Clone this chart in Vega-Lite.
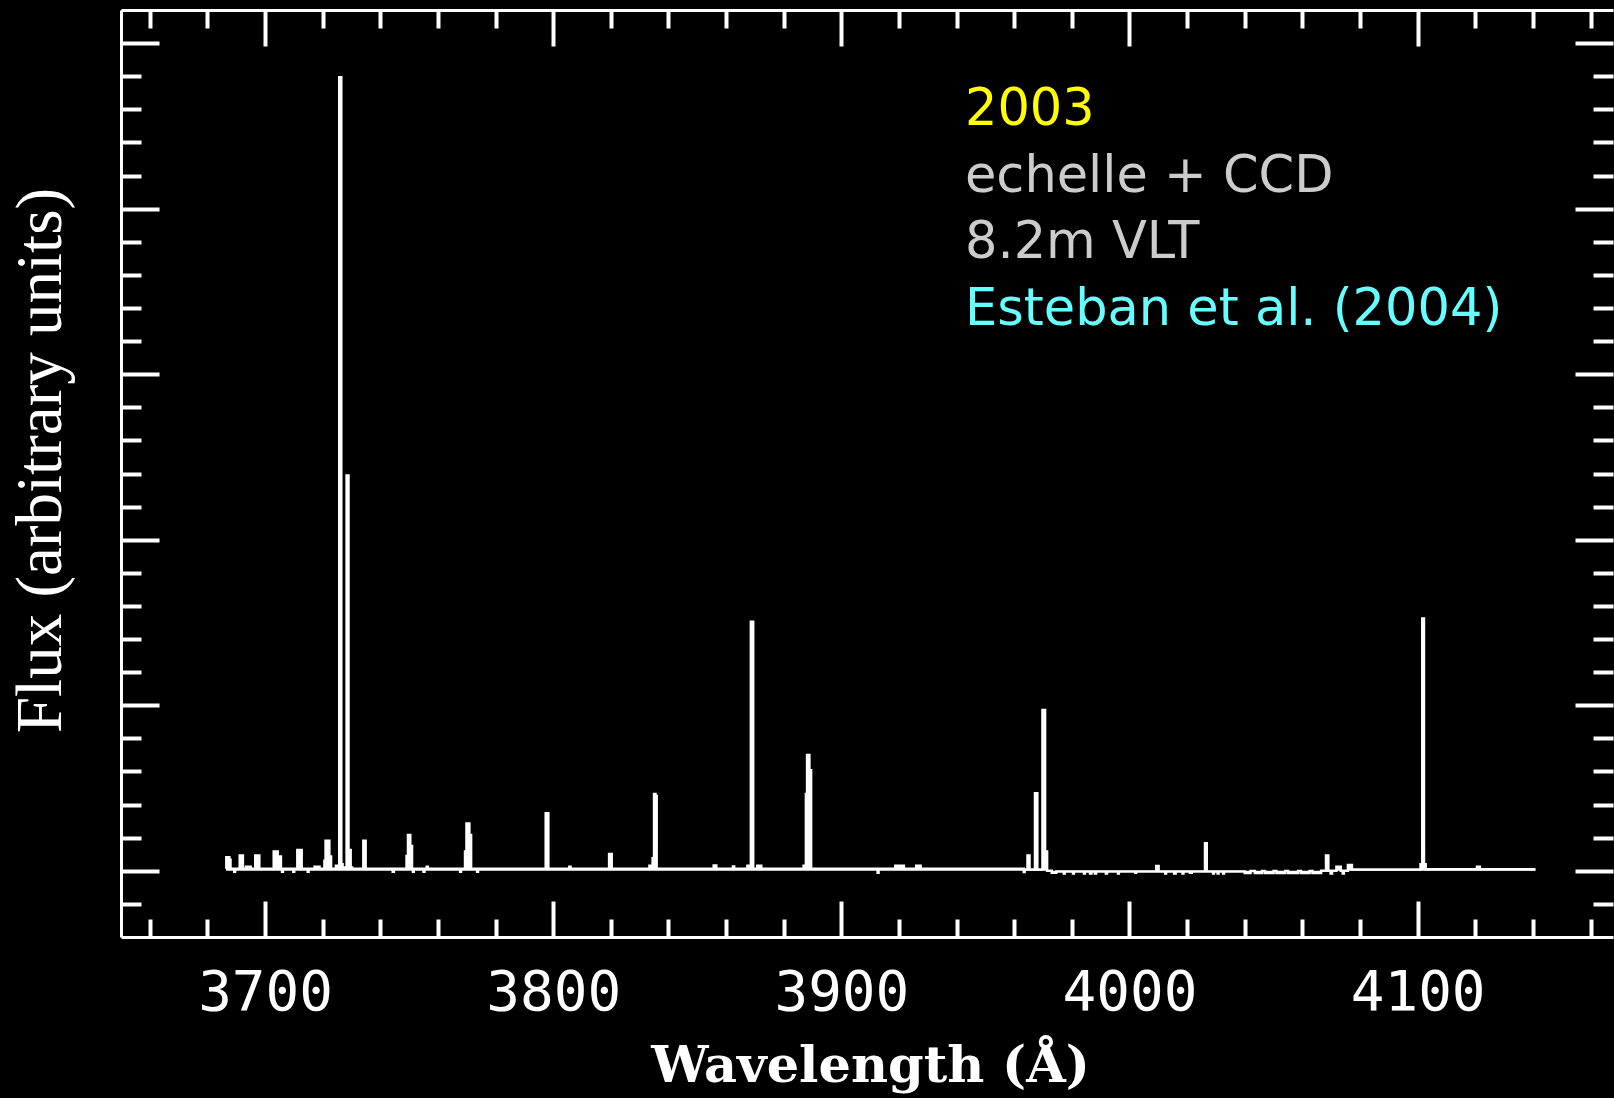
{
  "$schema": "https://vega.github.io/schema/vega-lite/v6.json",
  "width": 1492,
  "height": 927,
  "autosize": {"type": "none"},
  "padding": {"left": 121, "top": 10, "right": 1, "bottom": 161},
  "background": "#000000",
  "config": {
    "view": {"stroke": null},
    "axis": {"grid": false, "domainColor": "#ffffff", "tickColor": "#ffffff", "labelColor": "#ffffff", "titleColor": "#ffffff", "domainWidth": 3, "tickWidth": 4}
  },
  "datasets": {
    "spectrum": [
      {"w": 3686.45, "f": 0.06}, {"w": 3686.55, "f": 0.41}, {"w": 3687.6, "f": 0.33}, {"w": 3688.0, "f": 0.06},
      {"w": 3689.3, "f": -0.03}, {"w": 3689.6, "f": 0.06}, {"w": 3691.2, "f": 0.46}, {"w": 3692.3, "f": 0.06},
      {"w": 3693.4, "f": 0.12}, {"w": 3695.0, "f": 0.06}, {"w": 3696.6, "f": 0.46}, {"w": 3698.0, "f": 0.06},
      {"w": 3703.0, "f": 0.58}, {"w": 3704.4, "f": 0.43}, {"w": 3705.5, "f": 0.06}, {"w": 3705.9, "f": -0.03},
      {"w": 3706.2, "f": 0.06}, {"w": 3709.8, "f": -0.03}, {"w": 3710.1, "f": 0.06}, {"w": 3711.2, "f": 0.63},
      {"w": 3712.7, "f": 0.06}, {"w": 3714.8, "f": -0.03}, {"w": 3715.1, "f": 0.06}, {"w": 3717.2, "f": 0.12},
      {"w": 3718.9, "f": 0.06}, {"w": 3720.6, "f": 0.3}, {"w": 3721.0, "f": 0.91}, {"w": 3722.3, "f": 0.43},
      {"w": 3722.9, "f": 0.06}, {"w": 3724.6, "f": 0.15}, {"w": 3725.75, "f": 23.97}, {"w": 3726.45, "f": 0.2},
      {"w": 3726.9, "f": 0.1}, {"w": 3728.3, "f": 11.94}, {"w": 3728.95, "f": 0.63}, {"w": 3729.7, "f": 0.1},
      {"w": 3730.2, "f": 0.06}, {"w": 3734.1, "f": 0.91}, {"w": 3734.9, "f": 0.06}, {"w": 3744.3, "f": -0.03},
      {"w": 3744.7, "f": 0.06}, {"w": 3749.1, "f": 0.45}, {"w": 3749.6, "f": 1.08}, {"w": 3750.4, "f": 0.75},
      {"w": 3751.0, "f": 0.06}, {"w": 3751.3, "f": -0.03}, {"w": 3751.6, "f": 0.06}, {"w": 3755.0, "f": -0.03},
      {"w": 3755.3, "f": 0.06}, {"w": 3756.1, "f": 0.12}, {"w": 3756.5, "f": 0.06}, {"w": 3767.7, "f": -0.03},
      {"w": 3768.0, "f": 0.06}, {"w": 3769.4, "f": 0.58}, {"w": 3769.9, "f": 1.43}, {"w": 3770.9, "f": 1.08},
      {"w": 3771.5, "f": 0.06}, {"w": 3773.6, "f": -0.03}, {"w": 3773.9, "f": 0.06}, {"w": 3797.4, "f": 1.74},
      {"w": 3798.3, "f": 0.06}, {"w": 3805.6, "f": 0.12}, {"w": 3806.0, "f": 0.06}, {"w": 3819.4, "f": 0.51},
      {"w": 3820.3, "f": 0.06}, {"w": 3833.4, "f": 0.155}, {"w": 3834.5, "f": 0.38}, {"w": 3835.0, "f": 2.32},
      {"w": 3835.5, "f": 2.26}, {"w": 3835.9, "f": 0.06}, {"w": 3855.7, "f": 0.16}, {"w": 3856.6, "f": 0.06},
      {"w": 3862.4, "f": 0.13}, {"w": 3862.8, "f": 0.06}, {"w": 3867.4, "f": 0.155}, {"w": 3868.6, "f": 7.52},
      {"w": 3869.4, "f": 0.06}, {"w": 3870.8, "f": 0.155}, {"w": 3872.2, "f": 0.06}, {"w": 3886.9, "f": 0.155},
      {"w": 3887.7, "f": 2.32}, {"w": 3888.1, "f": 3.5}, {"w": 3888.9, "f": 3.04}, {"w": 3889.5, "f": 0.06},
      {"w": 3912.6, "f": -0.06}, {"w": 3912.9, "f": 0.06}, {"w": 3918.7, "f": 0.155}, {"w": 3921.7, "f": 0.06},
      {"w": 3926.0, "f": 0.155}, {"w": 3927.5, "f": 0.06}, {"w": 3963.3, "f": -0.04}, {"w": 3963.6, "f": 0.04},
      {"w": 3964.6, "f": 0.46}, {"w": 3965.3, "f": 0.04}, {"w": 3967.2, "f": 2.34}, {"w": 3968.0, "f": 0.04},
      {"w": 3969.8, "f": 4.86}, {"w": 3970.7, "f": 0.58}, {"w": 3971.4, "f": 0.0}, {"w": 3973.0, "f": -0.06},
      {"w": 3974.6, "f": -0.02}, {"w": 3977.2, "f": -0.08}, {"w": 3977.5, "f": -0.02}, {"w": 3980.4, "f": -0.08},
      {"w": 3980.7, "f": -0.02}, {"w": 3984.2, "f": -0.08}, {"w": 3984.5, "f": -0.02}, {"w": 3986.3, "f": -0.08},
      {"w": 3986.8, "f": -0.02}, {"w": 3988.0, "f": -0.08}, {"w": 3988.4, "f": -0.02}, {"w": 3991.8, "f": -0.08},
      {"w": 3992.2, "f": -0.02}, {"w": 3996.0, "f": -0.08}, {"w": 3996.3, "f": -0.02}, {"w": 4002.0, "f": -0.06},
      {"w": 4002.3, "f": -0.02}, {"w": 4009.3, "f": 0.145}, {"w": 4010.1, "f": -0.02}, {"w": 4012.4, "f": -0.08},
      {"w": 4012.7, "f": -0.02}, {"w": 4015.5, "f": -0.08}, {"w": 4016.0, "f": -0.02}, {"w": 4018.4, "f": -0.08},
      {"w": 4018.7, "f": -0.02}, {"w": 4021.0, "f": -0.06}, {"w": 4021.6, "f": -0.02}, {"w": 4026.2, "f": 0.83},
      {"w": 4026.8, "f": -0.02}, {"w": 4029.0, "f": -0.08}, {"w": 4029.3, "f": -0.02}, {"w": 4030.6, "f": -0.08},
      {"w": 4030.9, "f": -0.02}, {"w": 4032.5, "f": -0.08}, {"w": 4032.8, "f": -0.02}, {"w": 4040.0, "f": -0.07},
      {"w": 4042.0, "f": -0.01}, {"w": 4043.5, "f": -0.07}, {"w": 4046.0, "f": -0.01}, {"w": 4047.0, "f": -0.07},
      {"w": 4050.0, "f": -0.01}, {"w": 4051.0, "f": -0.07}, {"w": 4054.0, "f": -0.01}, {"w": 4055.0, "f": -0.07},
      {"w": 4058.5, "f": -0.01}, {"w": 4059.5, "f": -0.07}, {"w": 4062.5, "f": -0.01}, {"w": 4063.5, "f": -0.07},
      {"w": 4066.5, "f": 0.0}, {"w": 4068.2, "f": 0.46}, {"w": 4069.0, "f": 0.0}, {"w": 4069.8, "f": -0.08},
      {"w": 4070.3, "f": 0.0}, {"w": 4071.8, "f": 0.125}, {"w": 4073.3, "f": 0.0}, {"w": 4074.0, "f": -0.08},
      {"w": 4074.4, "f": 0.0}, {"w": 4075.8, "f": 0.175}, {"w": 4077.2, "f": 0.04}, {"w": 4101.0, "f": 0.2},
      {"w": 4101.6, "f": 7.62}, {"w": 4102.2, "f": 0.2}, {"w": 4102.8, "f": 0.05}, {"w": 4120.6, "f": 0.12},
      {"w": 4121.6, "f": 0.05}, {"w": 4140.9, "f": 0.05}
    ],
    "notes": [
      {"note": "2003", "kind": "year", "w": 3942.9, "f": 22.52},
      {"note": "echelle + CCD", "kind": "instrument", "w": 3942.9, "f": 20.51},
      {"note": "8.2m VLT", "kind": "telescope", "w": 3942.9, "f": 18.5},
      {"note": "Esteban et al. (2004)", "kind": "reference", "w": 3942.9, "f": 16.5}
    ]
  },
  "resolve": {"axis": {"x": "independent", "y": "independent"}},
  "layer": [
    {
      "data": {"name": "spectrum"},
      "mark": {"type": "area", "interpolate": "step-after", "color": "#ffffff", "opacity": 1, "clip": true},
      "encoding": {
        "x": {"field": "w", "type": "quantitative", "scale": {"domain": [3650, 4167.8], "nice": false, "zero": false}, "axis": null},
        "y": {"field": "f", "type": "quantitative", "scale": {"domain": [-2, 26], "nice": false, "zero": false}, "axis": null},
        "y2": {"datum": 0}
      }
    },
    {
      "data": {"name": "spectrum"},
      "mark": {"type": "line", "interpolate": "step-after", "color": "#ffffff", "strokeWidth": 2.5, "clip": true},
      "encoding": {
        "x": {"field": "w", "type": "quantitative", "scale": {"domain": [3650, 4167.8], "nice": false, "zero": false},
          "axis": {"orient": "bottom", "values": [3700, 3800, 3900, 4000, 4100], "ticks": false, "domain": true, "labels": true, "format": "d",
            "labelFont": "DejaVu Sans Mono", "labelFontSize": 56, "labelPadding": 72, "labelBaseline": "alphabetic", "labelOverlap": false, "labelFlush": false,
            "title": "Wavelength (Å)", "titleFont": "DejaVu Serif", "titleFontSize": 51, "titleFontWeight": "bold", "titleBaseline": "alphabetic", "titleX": 749, "titleY": 144}},
        "y": {"field": "f", "type": "quantitative", "scale": {"domain": [-2, 26], "nice": false, "zero": false},
          "axis": {"orient": "left", "ticks": false, "labels": false, "domain": true,
            "title": "Flux (arbitrary units)", "titleFont": "Liberation Serif", "titleFontSize": 65, "titleFontWeight": "normal",
            "titleAngle": 270, "titleAlign": "center", "titleBaseline": "alphabetic", "titleX": -61, "titleY": 450}}
      }
    },
    {
      "data": {"name": "spectrum"},
      "mark": {"type": "point", "opacity": 0, "size": 1},
      "encoding": {
        "x": {"field": "w", "type": "quantitative", "scale": {"domain": [3650, 4167.8], "nice": false, "zero": false},
          "axis": {"orient": "bottom", "values": [3700, 3800, 3900, 4000, 4100], "tickSize": -36, "labels": false, "domain": false, "title": null}},
        "y": {"field": "f", "type": "quantitative", "scale": {"domain": [-2, 26], "nice": false, "zero": false},
          "axis": {"orient": "left", "values": [0, 5, 10, 15, 20, 25], "tickSize": -38, "labels": false, "domain": false, "title": null}}
      }
    },
    {
      "data": {"name": "spectrum"},
      "mark": {"type": "point", "opacity": 0, "size": 1},
      "encoding": {
        "x": {"field": "w", "type": "quantitative", "scale": {"domain": [3650, 4167.8], "nice": false, "zero": false},
          "axis": {"orient": "bottom", "values": [3660, 3680, 3720, 3740, 3760, 3780, 3820, 3840, 3860, 3880, 3920, 3940, 3960, 3980, 4020, 4040, 4060, 4080, 4120, 4140, 4160], "tickSize": -18, "labels": false, "domain": false, "title": null}},
        "y": {"field": "f", "type": "quantitative", "scale": {"domain": [-2, 26], "nice": false, "zero": false},
          "axis": {"orient": "left", "values": [-1, 1, 2, 3, 4, 6, 7, 8, 9, 11, 12, 13, 14, 16, 17, 18, 19, 21, 22, 23, 24], "tickSize": -20, "labels": false, "domain": false, "title": null}}
      }
    },
    {
      "data": {"name": "spectrum"},
      "mark": {"type": "point", "opacity": 0, "size": 1},
      "encoding": {
        "x": {"field": "w", "type": "quantitative", "scale": {"domain": [3650, 4167.8], "nice": false, "zero": false},
          "axis": {"orient": "top", "values": [3700, 3800, 3900, 4000, 4100], "tickSize": -36, "labels": false, "domain": true, "title": null}},
        "y": {"field": "f", "type": "quantitative", "scale": {"domain": [-2, 26], "nice": false, "zero": false},
          "axis": {"orient": "right", "values": [0, 5, 10, 15, 20, 25], "tickSize": -38, "labels": false, "domain": false, "title": null}}
      }
    },
    {
      "data": {"name": "spectrum"},
      "mark": {"type": "point", "opacity": 0, "size": 1},
      "encoding": {
        "x": {"field": "w", "type": "quantitative", "scale": {"domain": [3650, 4167.8], "nice": false, "zero": false},
          "axis": {"orient": "top", "values": [3660, 3680, 3720, 3740, 3760, 3780, 3820, 3840, 3860, 3880, 3920, 3940, 3960, 3980, 4020, 4040, 4060, 4080, 4120, 4140, 4160], "tickSize": -18, "labels": false, "domain": false, "title": null}},
        "y": {"field": "f", "type": "quantitative", "scale": {"domain": [-2, 26], "nice": false, "zero": false},
          "axis": {"orient": "right", "values": [-1, 1, 2, 3, 4, 6, 7, 8, 9, 11, 12, 13, 14, 16, 17, 18, 19, 21, 22, 23, 24], "tickSize": -20, "labels": false, "domain": false, "title": null}}
      }
    },
    {
      "data": {"name": "notes"},
      "mark": {"type": "text", "align": "left", "baseline": "alphabetic", "font": "DejaVu Sans", "fontSize": 51},
      "encoding": {
        "x": {"field": "w", "type": "quantitative", "scale": {"domain": [3650, 4167.8], "nice": false, "zero": false}, "axis": null},
        "y": {"field": "f", "type": "quantitative", "scale": {"domain": [-2, 26], "nice": false, "zero": false}, "axis": null},
        "text": {"field": "note"},
        "color": {"field": "kind", "type": "nominal", "scale": {"domain": ["year", "instrument", "telescope", "reference"], "range": ["#FFFF00", "#CCCCCC", "#CCCCCC", "#66FFFF"]}, "legend": null}
      }
    }
  ]
}
